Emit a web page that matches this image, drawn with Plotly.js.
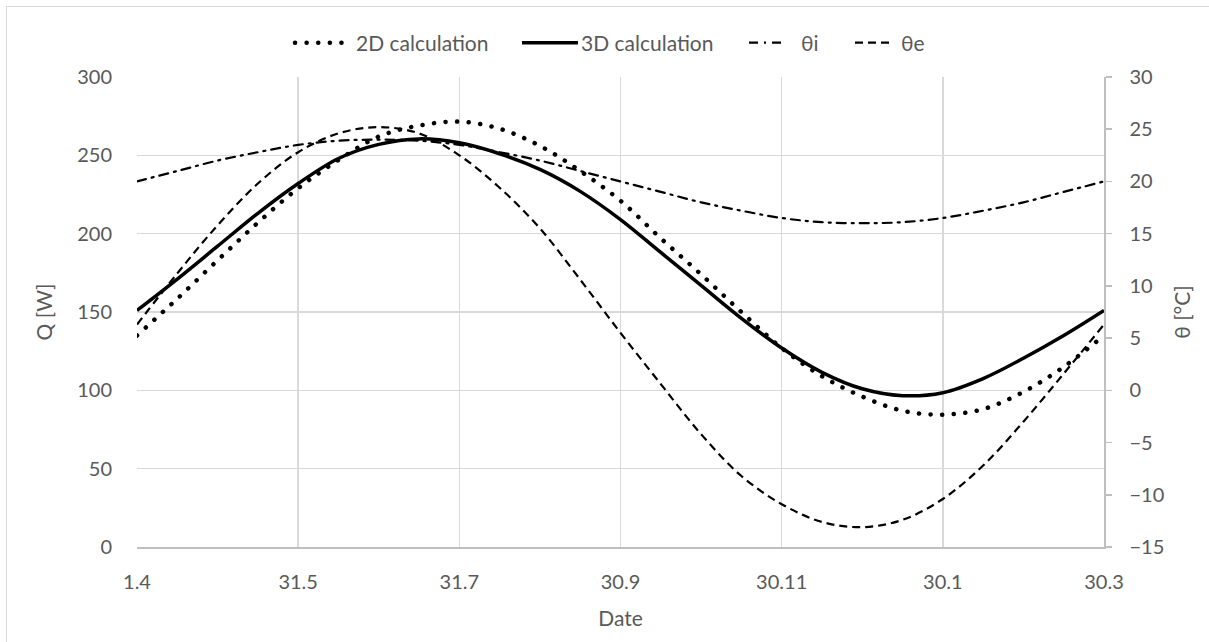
<!DOCTYPE html>
<html>
<head>
<meta charset="utf-8">
<script src="https://cdn.plot.ly/plotly-3.0.1.min.js"></script>
<style>
  html, body { margin: 0; padding: 0; background: #fff; overflow: hidden; }
  #frame { position: absolute; left: 6px; top: 6px; width: 1400px; height: 900px; border: 1.5px solid #d9d9d9; }
  #chart { position: absolute; left: 0; top: 0; width: 1209px; height: 642px; }
  .scatterlayer .trace:nth-child(1) path.js-line,
  .legend .traces:nth-child(1) path.js-line { stroke-linecap: round; }
</style>
</head>
<body>
<div id="frame"></div>
<div id="chart"></div>
<script>
// positions along the date axis (tick units, 0 = 1.4 ... 6 = 30.3)
const xPos = [0, 0.25, 0.5, 0.75, 1, 1.25, 1.5, 1.75, 2, 2.25, 2.5, 2.75, 3,
              3.25, 3.5, 3.75, 4, 4.25, 4.5, 4.75, 5, 5.25, 5.5, 5.75, 6];
const tickPos = [0, 1, 2, 3, 4, 5, 6];
const tickLabels = ["1.4", "31.5", "31.7", "30.9", "30.11", "30.1", "30.3"];

// Q [W]
const q2D = [135, 158.5, 183, 207, 229, 247, 262, 269, 271.5, 267, 256, 240, 221,
             197, 174, 150, 127, 109, 96, 87, 84.5, 88, 99, 115, 135];
const q3D = [151, 171, 192, 213, 232, 248, 257, 260.5, 258, 251, 241, 227, 209,
             188, 167, 146, 127, 111.5, 101, 96.6, 98.5, 107.5, 120.5, 135, 151];
// θ [°C]
const thetaI = [20.0, 21.0, 22.0, 22.8, 23.5, 23.9, 24.0, 23.9, 23.5, 22.8, 22.0, 21.0, 20.0,
                19.0, 18.0, 17.2, 16.5, 16.1, 16.0, 16.1, 16.5, 17.2, 18.0, 19.0, 20.0];
const thetaE = [6.3, 11.2, 15.8, 19.8, 22.8, 24.6, 25.2, 24.6, 22.5, 19.4, 15.5, 10.6, 5.5,
                0.6, -4.2, -8.2, -10.9, -12.6, -13.1, -12.4, -10.4, -7.2, -3.0, 1.6, 6.3];

const txt = '#595959';
const fontFam = 'Lato, "Open Sans", sans-serif';

const traces = [
  { x: xPos, y: q2D, name: '2D calculation', type: 'scatter', mode: 'lines',
    line: { color: '#000', width: 4.5, dash: '0.1px,11.5px', shape: 'spline', smoothing: 1 } },
  { x: xPos, y: q3D, name: '3D calculation', type: 'scatter', mode: 'lines',
    line: { color: '#000', width: 3.5, shape: 'spline', smoothing: 1 } },
  { x: xPos, y: thetaI, name: 'θi', type: 'scatter', mode: 'lines', yaxis: 'y2',
    line: { color: '#000', width: 2.2, dash: '9px,6px,2px,6px', shape: 'spline', smoothing: 1 } },
  { x: xPos, y: thetaE, name: 'θe', type: 'scatter', mode: 'lines', yaxis: 'y2',
    line: { color: '#000', width: 2.2, dash: '8px,5px', shape: 'spline', smoothing: 1 } }
];

const layout = {
  width: 1209, height: 642,
  margin: { l: 137, r: 105, t: 77, b: 95, autoexpand: false },
  paper_bgcolor: 'rgba(0,0,0,0)', plot_bgcolor: 'rgba(0,0,0,0)',
  font: { family: fontFam, size: 20, color: txt },
  showlegend: true,
  legend: { orientation: 'h', x: 0.5, xanchor: 'center', yref: 'container', y: 0.933, yanchor: 'middle',
            font: { size: 21, color: txt }, traceorder: 'normal' },
  xaxis: {
    range: [0, 6], tickvals: tickPos, ticktext: tickLabels,
    showgrid: true, gridcolor: '#d9d9d9', gridwidth: 1.5,
    showline: true, linecolor: '#bfbfbf', linewidth: 1.5,
    zeroline: false, ticks: '', ticklabelstandoff: 16,
    tickfont: { size: 20, color: txt },
    title: { text: 'Date', font: { size: 21, color: txt }, standoff: 20 }
  },
  yaxis: {
    range: [0, 300], dtick: 50, tick0: 0,
    showgrid: true, gridcolor: '#d9d9d9', gridwidth: 1.5,
    zeroline: false, showline: false, ticks: '', ticklabelstandoff: 24,
    tickfont: { size: 20, color: txt },
    title: { text: 'Q [W]', font: { size: 21, color: txt }, standoff: 18 }
  },
  yaxis2: {
    range: [-15, 30], dtick: 5, tick0: -15, overlaying: 'y', side: 'right',
    showgrid: false, zeroline: false,
    showline: true, linecolor: '#bfbfbf', linewidth: 1.5,
    ticks: 'outside', ticklen: 6, tickcolor: '#bfbfbf', tickwidth: 1.5, ticklabelstandoff: 14,
    tickfont: { size: 20, color: txt },
    title: { text: 'θ [°C]', font: { size: 21, color: txt }, standoff: 12 }
  }
};

// legend entry geometry (page pixels): sample start, sample end, text start
const legendGeom = {
  sampleStart: [295, 522, 749, 855],
  sampleEnd:   [353, 578, 787, 893],
  textStart:   [356, 581, 801, 901]
};

Plotly.newPlot('chart', traces, layout, { staticPlot: true, displayModeBar: false }).then(gd => {
  const leg = gd.querySelector('.legend');
  if (!leg) return;
  const re = /translate\(\s*([-\d.e]+)[\s,]+([-\d.e]+)\s*\)/;
  const lm = re.exec(leg.getAttribute('transform') || '');
  const lx = lm ? parseFloat(lm[1]) : 0;
  const sb = leg.querySelector('.scrollbox');
  if (sb) sb.removeAttribute('clip-path');
  leg.querySelectorAll('.bg').forEach(b => b.setAttribute('width', 2000));
  leg.querySelectorAll('.traces').forEach((g, i) => {
    const tm = re.exec(g.getAttribute('transform') || '');
    const gy = tm ? parseFloat(tm[2]) : 0;
    const s = legendGeom.sampleStart[i], e = legendGeom.sampleEnd[i], t = legendGeom.textStart[i];
    g.setAttribute('transform', 'translate(' + (s - 5 - lx) + ',' + gy + ')');
    g.querySelectorAll('path.js-line').forEach(p => p.setAttribute('d', 'M5,0h' + (e - s)));
    const tx = g.querySelector('text.legendtext');
    if (tx) tx.setAttribute('x', 5 + (t - s));
  });
});
</script>
</body>
</html>
